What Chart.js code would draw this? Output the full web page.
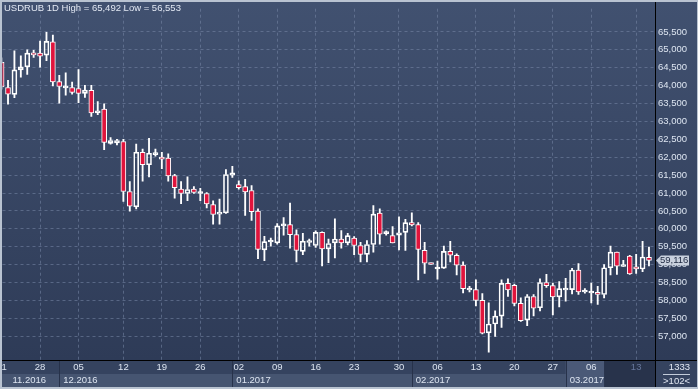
<!DOCTYPE html>
<html>
<head>
<meta charset="utf-8">
<script src="https://cdn.jsdelivr.net/npm/chart.js@4.4.1/dist/chart.umd.min.js"></script>
<style>
  html, body { margin: 0; padding: 0; background: #b9c3d1; }
  #wrap { width: 698px; height: 389px; }
</style>
</head>
<body>
<div id="wrap"><canvas id="chartUsdRub" width="698" height="389"></canvas></div>
<script>
// USDRUB daily candles, 21.11.2016 .. 14.03.2017 (102 bars)
const opens = [64650, 63948, 63756, 64442, 64524, 64916, 64908, 64853, 65226, 64113,
  63937, 63948, 63921, 63784, 63866, 63235, 63345, 62385, 62402, 62440,
  61042, 60611, 62139, 61790, 62073, 61974, 61974, 61489, 61113, 60987,
  61113, 60987, 60987, 60675, 60411, 60447, 61497, 61234, 61179, 61069,
  60493, 59413, 59632, 59605, 60082, 60118, 59835, 59369, 59616, 59534,
  59898, 59441, 59605, 59715, 59605, 59742, 59534, 59287, 59561, 60439,
  59863, 59808, 59824, 59898, 60173, 60118, 59397, 59040, 58876, 58903,
  59369, 59260, 58985, 58289, 58300, 57998, 57093, 57340, 57560, 58473,
  58418, 57916, 57450, 58108, 57795, 58500, 58410, 58097, 58289, 58300,
  58848, 58234, 58207, 58226, 58163, 58911, 59350, 58947, 59240, 58939,
  58876, 59205];
const highs = [64779, 64149, 64971, 64834, 64998, 64990, 65245, 65492, 65410, 64286,
  64360, 64102, 64450, 64011, 64011, 63553, 63490, 62550, 62503, 62503,
  61316, 62366, 62229, 62531, 62229, 62139, 62092, 61524, 61316, 61453,
  61179, 61132, 61014, 60784, 60831, 61653, 61744, 61343, 61379, 61206,
  60556, 59789, 59742, 60145, 60310, 60721, 59972, 59871, 59715, 59945,
  59918, 59715, 60282, 59953, 59871, 59781, 59624, 59671, 60647, 60556,
  59945, 60063, 60337, 60263, 60447, 60173, 59624, 59040, 59095, 59515,
  59652, 59303, 59076, 58390, 58574, 58190, 57932, 57705, 58574, 58601,
  58453, 58070, 58163, 58163, 58601, 58727, 58481, 58527, 58618, 58892,
  59029, 58327, 58481, 58390, 59002, 59515, 59350, 59122, 59260, 59287,
  59652, 59487];
const lows = [63901, 63482, 63663, 64239, 64313, 64787, 64513, 64697, 63992, 63510,
  63737, 63765, 63526, 63674, 63142, 63189, 62210, 62366, 62347, 60767,
  60493, 60556, 61333, 61453, 62029, 61681, 61333, 60858, 60702, 60784,
  60987, 60784, 60584, 60126, 60126, 60428, 61434, 61105, 60373, 60236,
  59166, 59112, 59514, 59569, 59824, 59460, 59076, 59276, 59514, 59479,
  58966, 59057, 59185, 59460, 59550, 59276, 59076, 59076, 59350, 59569,
  59824, 59605, 59413, 59397, 60082, 58574, 58755, 59002, 58590, 58892,
  59076, 58711, 58207, 58234, 57842, 57066, 56553, 56992, 57247, 58108,
  57842, 57412, 57293, 57568, 57705, 58363, 57595, 57815, 57979, 58179,
  58163, 58199, 57932, 57888, 58070, 58711, 58727, 58939, 58727, 58755,
  58802, 58966];
const closes = [63964, 63765, 64442, 64524, 64908, 64861, 64826, 65237, 64102, 63976,
  63965, 63811, 63784, 63874, 63235, 63298, 62413, 62468, 62468, 61042,
  60630, 62139, 61790, 62111, 62100, 61947, 61481, 61152, 60987, 61097,
  61014, 61003, 60694, 60400, 60466, 61516, 61563, 61152, 61031, 60482,
  59424, 59643, 59652, 60082, 60118, 59835, 59397, 59652, 59652, 59898,
  59441, 59589, 59715, 59605, 59808, 59534, 59287, 59561, 60411, 59852,
  59890, 59605, 59890, 60173, 60109, 59424, 59040, 59002, 58892, 59369,
  59260, 58985, 58327, 58327, 57998, 57082, 57340, 57560, 58473, 58289,
  57916, 57431, 58108, 57779, 58500, 58410, 58097, 58327, 58327, 58848,
  58234, 58272, 58234, 58163, 58911, 59350, 58958, 58985, 58738, 58876,
  59213, 59116];

// bottom axis: week ticks (bar index) and day labels
const tickIndex = [0, 6, 12, 19, 25, 31, 37, 43, 49, 55, 62, 68, 74, 80, 86, 92, 99];
const tickLabel = ['21', '28', '05', '12', '19', '26', '02', '09', '16', '23', '30', '06', '13', '20', '27', '06', '13'];
// month bands: first bar of each month
const monthStart = [-10, 9, 36, 64, 88];
const monthLabel = ['11.2016', '12.2016', '01.2017', '02.2017', '03.2017'];
const yTicks = [57000, 57500, 58000, 58500, 59000, 59500, 60000, 60500, 61000,
  61500, 62000, 62500, 63000, 63500, 64000, 64500, 65000, 65500];

const FONT = "'Liberation Sans', Arial, sans-serif";
const RED = '#e0143c';
const n = closes.length;

const bodies = [], upWick = [], lowWick = [];
for (let i = 0; i < n; i++) {
  const top = Math.max(opens[i], closes[i]);
  const bot = Math.min(opens[i], closes[i]);
  bodies.push({ x: i, y: [opens[i], closes[i]] });
  upWick.push({ x: i, y: [top, highs[i]] });
  lowWick.push({ x: i, y: [lows[i], bot] });
}

const chrome = {
  id: 'chrome',
  beforeDraw(chart) {
    const { ctx, chartArea: a, width } = chart;
    const xs = chart.scales.x;
    ctx.save();
    ctx.fillStyle = '#b9c3d1';
    ctx.fillRect(0, 0, width, chart.height);
    const g = ctx.createLinearGradient(0, 2, 0, a.bottom);
    g.addColorStop(0, '#415170');
    g.addColorStop(1, '#2e3b57');
    ctx.fillStyle = g;
    ctx.fillRect(2, 2, width - 3, a.bottom - 2);
    // date strip
    ctx.fillStyle = '#35435f';
    ctx.fillRect(2, a.bottom, width - 3, 27);
    ctx.fillStyle = '#465571';
    ctx.fillRect(2, a.bottom + 14, a.right - 2, 13);
    const marchX = xs.getPixelForValue(monthStart[4]);
    const curX = xs.getPixelForValue(94);
    ctx.fillStyle = '#4a5977';
    ctx.fillRect(marchX, a.bottom, curX - marchX, 27);
    ctx.fillStyle = '#28334b';
    ctx.fillRect(curX, a.bottom, a.right - curX, 27);
    ctx.strokeStyle = '#27324a';
    ctx.lineWidth = 1;
    for (let m = 1; m < monthStart.length; m++) {
      const x = Math.round(xs.getPixelForValue(monthStart[m])) + 0.5;
      ctx.beginPath();
      ctx.moveTo(x, a.bottom);
      ctx.lineTo(x, a.bottom + 27);
      ctx.stroke();
    }
    ctx.restore();
  },
  afterDraw(chart) {
    const { ctx, chartArea: a, width } = chart;
    const xs = chart.scales.x, ys = chart.scales.y;
    ctx.save();
    // separators
    ctx.fillStyle = '#000000';
    ctx.fillRect(a.right, 2, 1, 385);
    ctx.fillRect(2, a.bottom, width - 3, 1);

    // title
    ctx.font = '9.5px ' + FONT;
    ctx.fillStyle = '#e2e8f3';
    ctx.textBaseline = 'middle';
    ctx.textAlign = 'left';
    const hi = Math.max(...highs), lo = Math.min(...lows);
    ctx.fillText('USDRUB 1D High = ' + hi.toLocaleString('en-US') +
      ' Low = ' + lo.toLocaleString('en-US'), 4, 8.5);

    // day labels
    ctx.save();
    ctx.beginPath();
    ctx.rect(2, a.bottom, a.right - 2, 27);
    ctx.clip();
    ctx.font = '9.5px ' + FONT;
    ctx.textAlign = 'center';
    const curX = xs.getPixelForValue(94);
    tickIndex.forEach((k, i) => {
      const x = xs.getPixelForValue(k);
      ctx.fillStyle = x > curX ? '#66769a' : '#dde5f1';
      ctx.fillText(tickLabel[i], x, a.bottom + 7.5);
    });
    ctx.textAlign = 'left';
    ctx.fillStyle = '#dde5f1';
    monthLabel.forEach((lab, m) => {
      const x0 = xs.getPixelForValue(monthStart[m]);
      const x = x0 < a.left ? a.left + 10 : x0 + 4;
      ctx.fillText(lab, x, a.bottom + 20.5);
    });
    ctx.restore();

    // corner box
    ctx.textAlign = 'right';
    ctx.fillStyle = '#e2e8f3';
    ctx.fillText('1333', 690, a.bottom + 7.5);
    ctx.fillText('>' + n + '<', 690, a.bottom + 21);
    ctx.fillStyle = '#c3ccda';
    ctx.fillRect(663, a.bottom + 14, 27, 1);

    // last price tag
    const last = closes[n - 1];
    const py = Math.round(ys.getPixelForValue(last)) + 0.5;
    ctx.beginPath();
    ctx.moveTo(a.right + 1, py);
    ctx.lineTo(a.right + 6, py - 5);
    ctx.lineTo(689, py - 5);
    ctx.lineTo(689, py + 5);
    ctx.lineTo(a.right + 6, py + 5);
    ctx.closePath();
    ctx.fillStyle = '#c9d1de';
    ctx.fill();
    ctx.fillStyle = '#1d2840';
    ctx.textAlign = 'left';
    ctx.fillText(last.toLocaleString('en-US'), a.right + 5, py);
    ctx.restore();
  }
};

const config = {
  type: 'bar',
  data: {
    datasets: [
      {
        label: 'body',
        data: bodies,
        order: 0,
        grouped: false,
        barPercentage: 1,
        categoryPercentage: 1,
        maxBarThickness: 5,
        minBarLength: 2,
        borderWidth: 1,
        borderSkipped: false,
        borderColor: '#ffffff',
        backgroundColor: (c) => closes[c.dataIndex] < opens[c.dataIndex] ? RED : 'rgba(0,0,0,0)'
      },
      {
        label: 'upper wick',
        data: upWick,
        order: 1,
        grouped: false,
        barPercentage: 1,
        categoryPercentage: 1,
        maxBarThickness: 1.2,
        borderWidth: 0,
        backgroundColor: '#ffffff'
      },
      {
        label: 'lower wick',
        data: lowWick,
        order: 1,
        grouped: false,
        barPercentage: 1,
        categoryPercentage: 1,
        maxBarThickness: 1.2,
        borderWidth: 0,
        backgroundColor: '#ffffff'
      }
    ]
  },
  options: {
    responsive: false,
    animation: false,
    devicePixelRatio: 1,
    layout: { padding: { left: 2.5, top: 2, right: 0, bottom: 0 } },
    plugins: { legend: { display: false }, tooltip: { enabled: false } },
    scales: {
      x: {
        type: 'linear',
        offset: false,
        min: 0.14,
        max: 101.94,
        ticks: { display: false },
        afterBuildTicks: (s) => { s.ticks = tickIndex.filter(k => k > 0).map(v => ({ value: v })); },
        afterFit: (s) => { s.height = 29; },
        grid: { color: 'rgba(120,136,168,0.55)', lineWidth: 1, drawTicks: false, offset: false },
        border: { display: false, dash: [3, 3] }
      },
      y: {
        position: 'right',
        min: 56334,
        max: 66150,
        afterBuildTicks: (s) => { s.ticks = yTicks.map(v => ({ value: v })); },
        afterFit: (s) => { s.width = 43; },
        ticks: {
          padding: 3,
          color: '#dde5f1',
          font: { family: FONT, size: 9.5 },
          callback: (v) => v.toLocaleString('en-US')
        },
        grid: { color: 'rgba(120,136,168,0.55)', lineWidth: 1, drawTicks: false },
        border: { display: false, dash: [3, 3] }
      }
    }
  },
  plugins: [chrome]
};

new Chart(document.getElementById('chartUsdRub').getContext('2d'), config);
</script>
</body>
</html>
